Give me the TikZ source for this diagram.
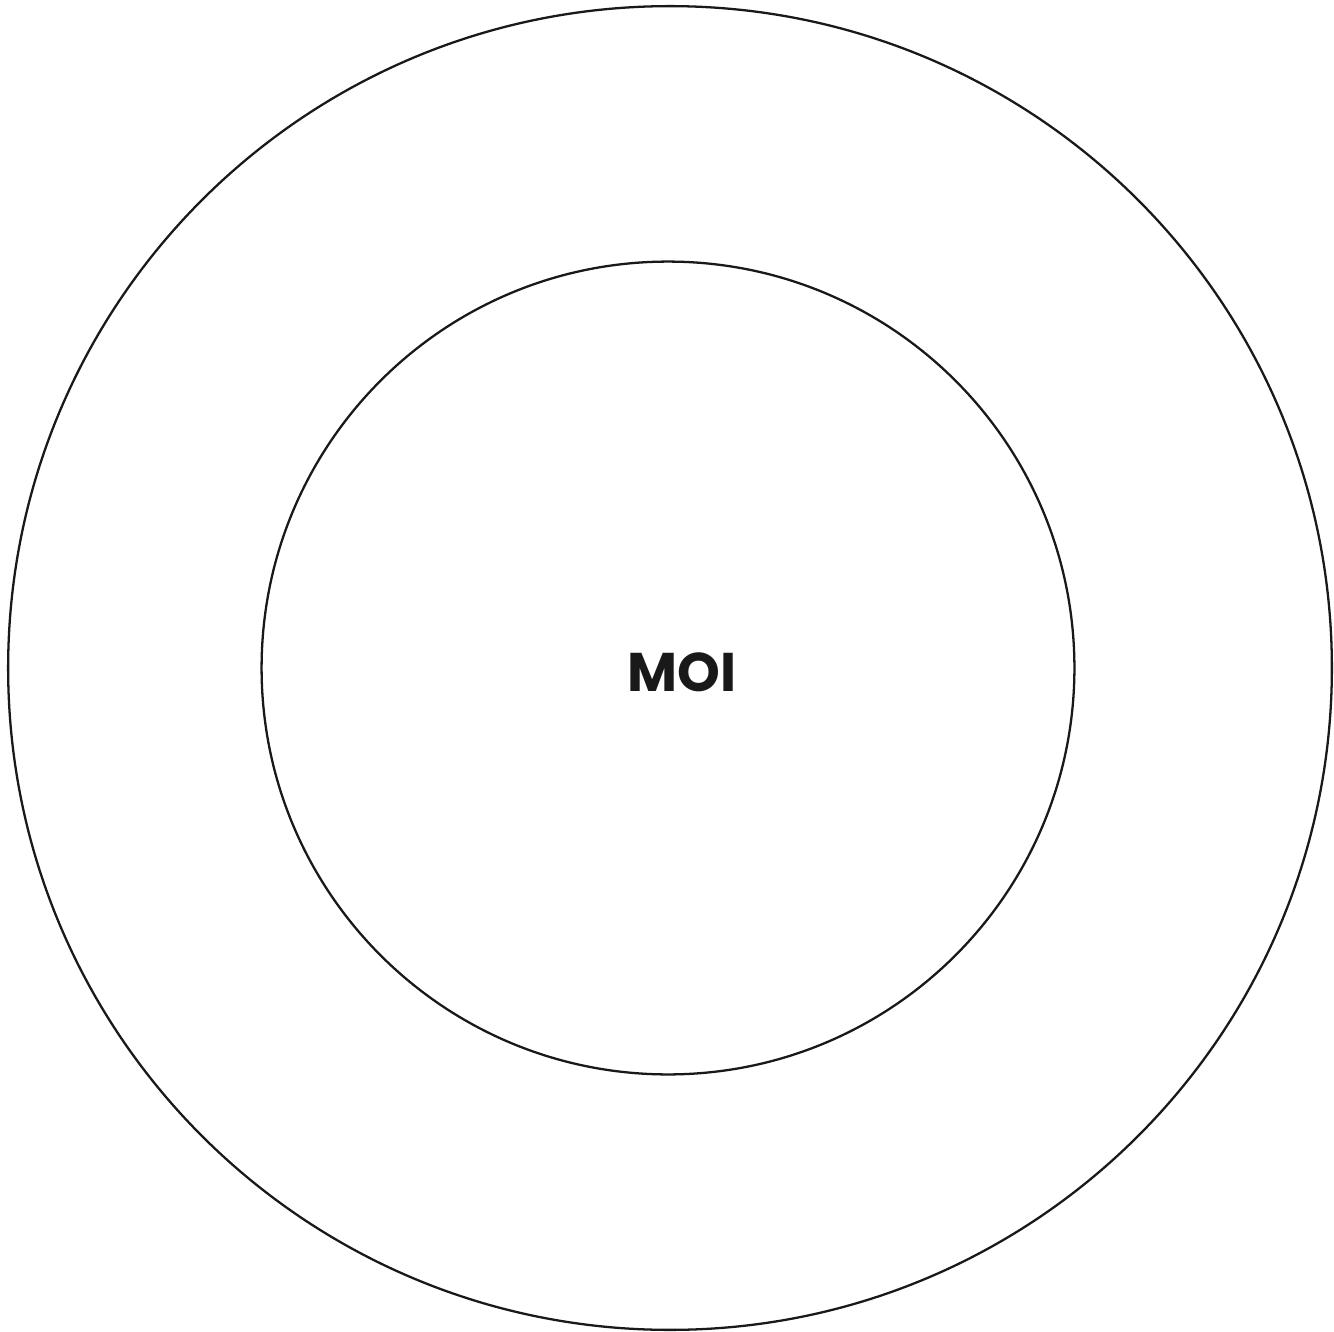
\documentclass[tikz,border=0pt]{standalone}
\usepackage{fontspec}
\newfontfamily\moifont{Poppins}
\begin{document}
\begin{tikzpicture}[x=0.02cm,y=-0.02cm,
  ring/.style={draw=black!90,line width=1.3pt,circle,inner sep=0pt}]
\useasboundingbox (0,0) rectangle (1334,1331);
\node[ring,minimum size=26.48cm] (outer) at (670,668) {};
\node[ring,minimum size=16.26cm] (inner) at (668,668) {};
\node[font=\moifont\bfseries\fontsize{31}{31}\selectfont,text=black!90,inner sep=0pt] (moi) at (682,672) {MOI};
\end{tikzpicture}
\end{document}
